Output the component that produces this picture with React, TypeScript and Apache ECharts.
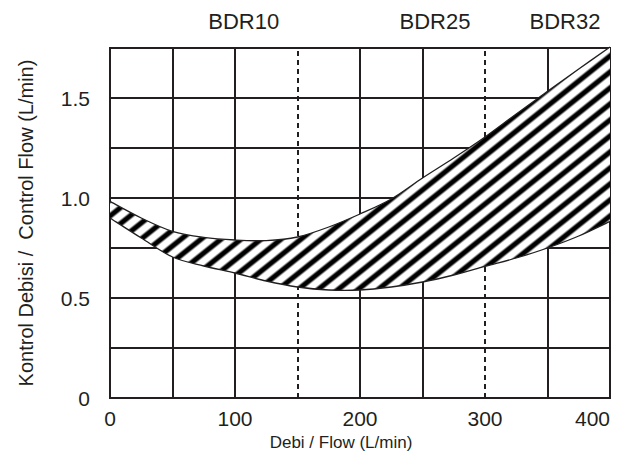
import React, { useEffect, useRef } from 'react';
import * as echarts from 'echarts';

// ---- data ----
const flowX = [0, 25, 50, 75, 100, 125, 150, 175, 200, 225, 250, 275, 300, 325, 350, 375, 400];
const upperFlow = [0.983, 0.9, 0.833, 0.803, 0.79, 0.787, 0.805, 0.855, 0.92, 0.995, 1.1, 1.2, 1.305, 1.42, 1.533, 1.645, 1.755];
const lowerFlow = [0.9, 0.8, 0.705, 0.66, 0.625, 0.585, 0.555, 0.54, 0.54, 0.555, 0.58, 0.615, 0.658, 0.7, 0.75, 0.81, 0.883];
const solidGridX = [50, 100, 200, 250, 350];
const dashedGridX = [150, 300];
const topLabels = ['BDR10', 'BDR25', 'BDR32'];
const topLabelFlow = [107, 260, 364];

const INK = '#231f20';
const FONT = '"Liberation Sans", Arial, Helvetica, sans-serif';

function makeHatch(): HTMLCanvasElement {
  const w = 20;
  const h = 16;
  const c = document.createElement('canvas');
  c.width = w;
  c.height = h;
  const ctx = c.getContext('2d')!;
  const img = ctx.createImageData(w, h);
  const perp = 1 / Math.sqrt(1 / (w * w) + 1 / (h * h));
  const smooth = (a: number, b: number, x: number) => {
    const t = Math.min(1, Math.max(0, (x - a) / (b - a)));
    return t * t * (3 - 2 * t);
  };
  for (let y = 0; y < h; y++) {
    for (let x = 0; x < w; x++) {
      const t = ((x + 0.5) / w + (y + 0.5) / h) % 1;
      const d = Math.min(t, 1 - t) * perp;
      const v = Math.round(255 * smooth(1.2, 4.0, d));
      const k = (y * w + x) * 4;
      img.data[k] = v;
      img.data[k + 1] = v;
      img.data[k + 2] = v;
      img.data[k + 3] = 255;
    }
  }
  ctx.putImageData(img, 0, 0);
  return c;
}

// Catmull-Rom curve through pixel points, as SVG path commands (no leading M)
function curveCmds(p: number[][]): string {
  let s = '';
  const n = p.length;
  for (let i = 0; i < n - 1; i++) {
    const p0 = p[Math.max(0, i - 1)];
    const p1 = p[i];
    const p2 = p[i + 1];
    const p3 = p[Math.min(n - 1, i + 2)];
    const c1x = p1[0] + (p2[0] - p0[0]) / 6;
    const c1y = p1[1] + (p2[1] - p0[1]) / 6;
    const c2x = p2[0] - (p3[0] - p1[0]) / 6;
    const c2y = p2[1] - (p3[1] - p1[1]) / 6;
    s += ` C${c1x.toFixed(2)},${c1y.toFixed(2)} ${c2x.toFixed(2)},${c2y.toFixed(2)} ${p2[0].toFixed(2)},${p2[1].toFixed(2)}`;
  }
  return s;
}

export default function App() {
  const ref = useRef<HTMLDivElement>(null);
  useEffect(() => {
    if (!ref.current) return;
    const chart = echarts.init(ref.current, undefined, { renderer: 'svg' });
    const hatch = makeHatch();
    chart.setOption({
      animation: false,
      textStyle: { fontFamily: FONT, color: INK },
      grid: {
        left: 110,
        right: 11,
        top: 48,
        bottom: 73,
        show: true,
        borderColor: INK,
        borderWidth: 2,
        backgroundColor: '#fff',
      },
      xAxis: {
        type: 'value',
        min: 0,
        max: 400,
        interval: 50,
        axisLine: { show: true, lineStyle: { color: INK, width: 2 } },
        axisTick: { show: false },
        splitLine: { show: false },
        axisLabel: {
          formatter: (v: number) => (v % 100 === 0 ? String(v) : ''),
          fontSize: 21,
          color: INK,
          margin: 10,
          fontFamily: FONT,
          alignMaxLabel: 'right',
        },
        name: 'Debi / Flow (L/min)',
        nameLocation: 'middle',
        nameGap: 26,
        nameTextStyle: { fontSize: 17, color: INK, fontFamily: FONT, padding: [0, 38, 0, 0] },
      },
      yAxis: {
        type: 'value',
        min: 0,
        max: 1.75,
        interval: 0.25,
        axisLine: { show: true, lineStyle: { color: INK, width: 2 } },
        axisTick: { show: false },
        splitLine: { show: true, lineStyle: { color: INK, width: 2 } },
        axisLabel: {
          formatter: (v: number) => {
            if (Math.abs(v / 0.5 - Math.round(v / 0.5)) > 1e-6) return '';
            return v === 0 ? '0' : v.toFixed(1);
          },
          fontSize: 21,
          color: INK,
          margin: 20,
          fontFamily: FONT,
        },
        name: 'Kontrol Debisi /  Control Flow (L/min)',
        nameLocation: 'middle',
        nameGap: 74,
        nameTextStyle: { fontSize: 20, color: INK, fontFamily: FONT },
      },
      series: [
        {
          type: 'line',
          data: [],
          z: 1,
          silent: true,
          markLine: {
            silent: true,
            z: 1,
            symbol: ['none', 'none'],
            label: { show: false },
            lineStyle: { color: INK, width: 2, type: 'solid' },
            data: [
              ...solidGridX.map((v) => ({ xAxis: v, lineStyle: { type: 'solid' } })),
              ...dashedGridX.map((v) => ({ xAxis: v, lineStyle: { type: [5, 4] } })),
            ],
          },
        },
        {
          type: 'custom',
          z: 3,
          silent: true,
          data: [0],
          renderItem: (_params: any, api: any) => {
            const up = flowX.map((x, i) => api.coord([x, upperFlow[i]]));
            const lo = flowX.map((x, i) => api.coord([x, lowerFlow[i]]));
            const loRev = lo.slice().reverse();
            const upCmd = `M${up[0][0]},${up[0][1]}` + curveCmds(up);
            const loCmd = `M${lo[0][0]},${lo[0][1]}` + curveCmds(lo);
            const fillCmd =
              upCmd + ` L${loRev[0][0]},${loRev[0][1]}` + curveCmds(loRev) + ' Z';
            return {
              type: 'group',
              children: [
                {
                  type: 'path',
                  shape: { pathData: fillCmd },
                  style: { fill: { image: hatch, repeat: 'repeat' }, stroke: 'none' },
                },
                {
                  type: 'path',
                  shape: { pathData: upCmd },
                  style: { fill: 'none', stroke: INK, lineWidth: 1.3 },
                },
                {
                  type: 'path',
                  shape: { pathData: loCmd },
                  style: { fill: 'none', stroke: INK, lineWidth: 1.3 },
                },
              ],
            };
          },
        },
      ],
    });
    chart.setOption({
      graphic: topLabels.map((t, i) => ({
        type: 'text',
        x: chart.convertToPixel({ xAxisIndex: 0 }, topLabelFlow[i]) as number,
        y: 21,
        style: {
          text: t,
          font: `22px ${FONT}`,
          fill: INK,
          textAlign: 'center',
          textVerticalAlign: 'middle',
          align: 'center',
          verticalAlign: 'middle',
        },
      })),
    });
    return () => chart.dispose();
  }, []);
  return (
    <div
      ref={ref}
      style={{ position: 'fixed', left: 0, top: 0, width: 621, height: 471, background: '#fff' }}
    />
  );
}
